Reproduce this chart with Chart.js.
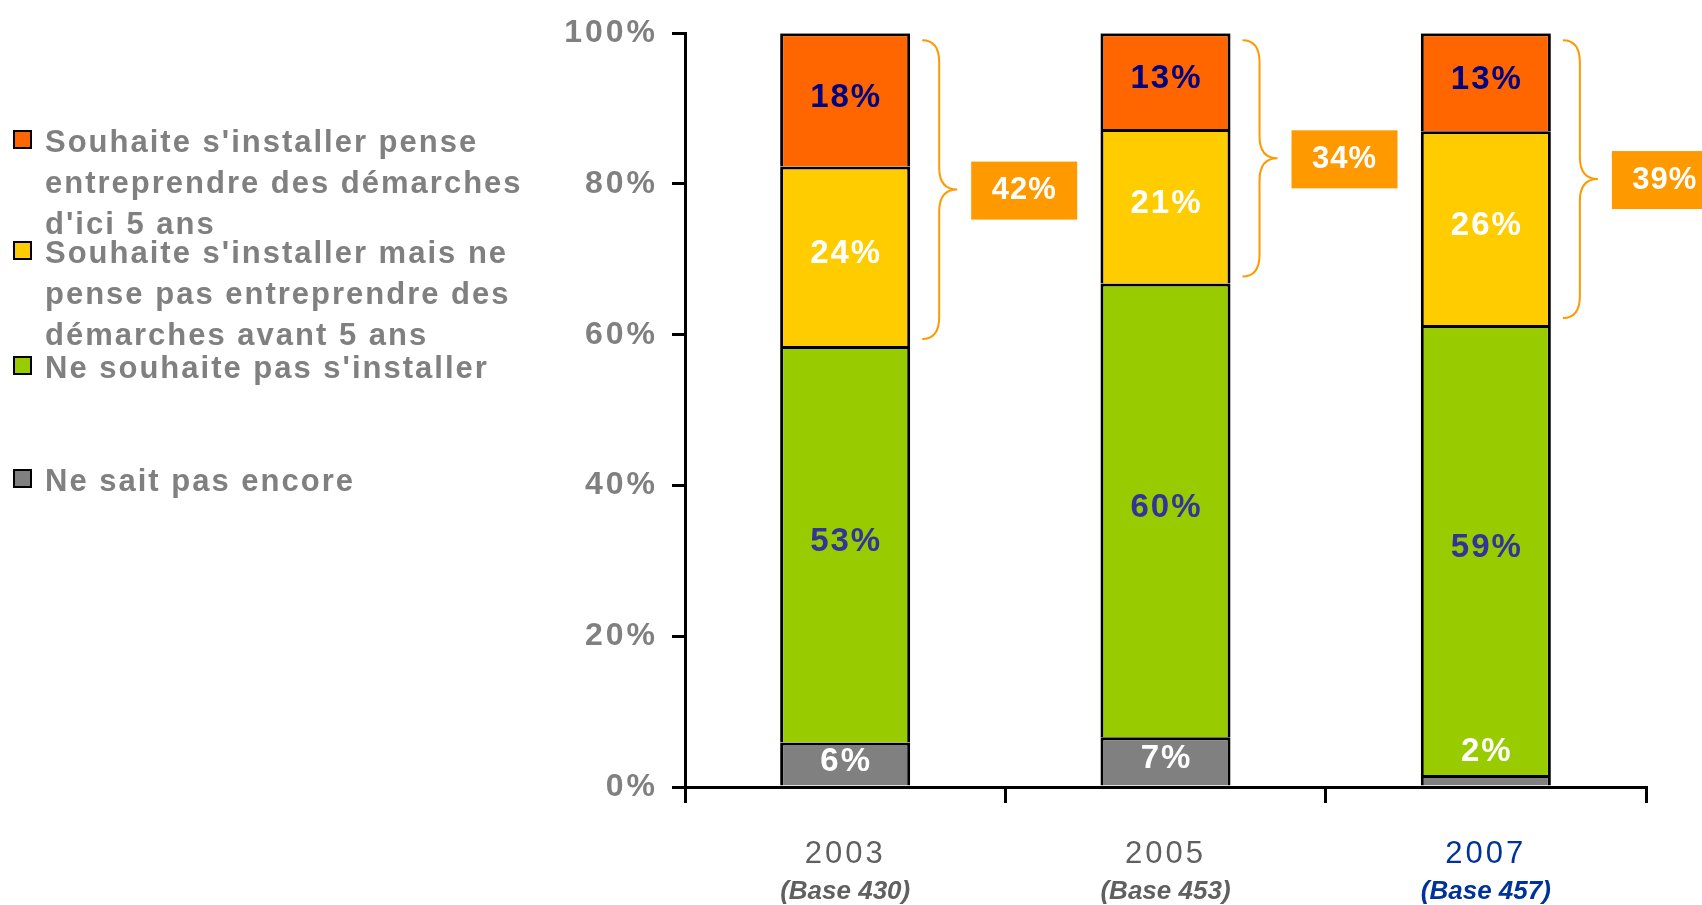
<!DOCTYPE html>
<html>
<head>
<meta charset="utf-8">
<script src="https://cdn.jsdelivr.net/npm/chart.js@4/dist/chart.umd.min.js"></script>
<style>
  html, body { margin: 0; padding: 0; background: #fff; width: 1702px; height: 905px; overflow: hidden; }
  #wrap { position: relative; width: 1702px; height: 905px; }
  canvas { position: absolute; left: 0; top: 0; }
  .leg { position: absolute; left: 0; font-family: 'Liberation Sans', Arial, sans-serif; font-weight: bold;
         font-size: 31px; line-height: 41px; color: #808080; letter-spacing: 2px; white-space: nowrap; }
  .leg .sw { position: absolute; left: 13px; width: 15px; height: 15px; border: 2.5px solid #000; }
  .leg .tx { position: absolute; left: 45px; top: 0; }
</style>
</head>
<body>
<div id="wrap">
  <canvas id="c" width="1702" height="905"></canvas>
  <div id="legend"></div>
</div>
<script>
// ---- data ----
const categories = ['2003', '2005', '2007'];
const baseLabels = ['(Base 430)', '(Base 453)', '(Base 457)'];

const seriesNames = [
  'Ne sait pas encore',
  "Ne souhaite pas s'installer",
  "Souhaite s'installer mais ne pense pas entreprendre des démarches avant 5 ans",
  "Souhaite s'installer pense entreprendre des démarches d'ici 5 ans"
];
const legendLines = [
  ['Ne sait pas encore'],
  ["Ne souhaite pas s'installer"],
  ["Souhaite s'installer mais ne", 'pense pas entreprendre des', 'démarches avant 5 ans'],
  ["Souhaite s'installer pense", 'entreprendre des démarches', "d'ici 5 ans"]
];

const neSaitPas     = [5.9, 6.6, 1.6];
const neSouhaitePas = [52.6, 60.2, 59.7];
const souhaiteApres = [23.8, 20.5, 25.7];
const souhaite5ans  = [17.7, 12.7, 13.0];

const neSaitPasLabels     = ['6%', '7%', '2%'];
const neSouhaitePasLabels = ['53%', '60%', '59%'];
const souhaiteApresLabels = ['24%', '21%', '26%'];
const souhaite5ansLabels  = ['18%', '13%', '13%'];
const totalSouhaiteLabels = ['42%', '34%', '39%'];

const yTickValues = [0, 20, 40, 60, 80, 100];

// ---- styles ----
const FONT = "'Liberation Sans', Arial, sans-serif";
const colors = ['#808080', '#99CC00', '#FFCC00', '#FF6600'];
const labelColors = ['#FFFFFF', '#333399', '#FFFFFF', '#000080'];
const segLabels = [neSaitPasLabels, neSouhaitePasLabels, souhaiteApresLabels, souhaite5ansLabels];
const BRACE = '#FF9900';

// ---- legend (HTML) ----
const legendTops = [459.5, 346.5, 231.5, 120.5]; // by dataset index
const legendEl = document.getElementById('legend');
[3, 2, 1, 0].forEach(i => {
  const d = document.createElement('div');
  d.className = 'leg';
  d.style.top = legendTops[i] + 'px';
  const sw = document.createElement('div');
  sw.className = 'sw';
  sw.style.background = colors[i];
  sw.style.top = '9px';
  const tx = document.createElement('div');
  tx.className = 'tx';
  tx.innerHTML = legendLines[i].map(s => s.replace(/&/g, '&amp;')).join('<br>');
  d.appendChild(sw);
  d.appendChild(tx);
  legendEl.appendChild(d);
});

// ---- plugins ----
const spacingPlugin = {
  id: 'spacing',
  beforeDraw(chart) { chart.ctx.letterSpacing = '3px'; },
  afterDraw(chart) { chart.ctx.letterSpacing = '0px'; }
};

const labelsPlugin = {
  id: 'segLabels',
  afterDatasetsDraw(chart) {
    const ctx = chart.ctx;
    ctx.save();
    ctx.letterSpacing = '2px';
    ctx.font = 'bold 33px ' + FONT;
    ctx.textAlign = 'center';
    ctx.textBaseline = 'middle';
    chart.data.datasets.forEach((ds, di) => {
      const meta = chart.getDatasetMeta(di);
      meta.data.forEach((el, i) => {
        const h = el.base - el.y;
        let cy, col = labelColors[di];
        if (h > 35) {
          cy = (el.y + el.base) / 2;
        } else {
          cy = el.y - 21;
          col = '#FFFFFF';
        }
        ctx.fillStyle = col;
        ctx.fillText(segLabels[di][i], el.x + 1, cy - 2);
      });
    });
    ctx.restore();
  },
  afterDraw(chart) {
    const ctx = chart.ctx;
    const xs = chart.scales.x;
    ctx.save();
    ctx.letterSpacing = '0px';
    // base labels under years
    ctx.font = 'italic bold 26px ' + FONT;
    ctx.textAlign = 'center';
    ctx.textBaseline = 'middle';
    baseLabels.forEach((t, i) => {
      ctx.fillStyle = i === 2 ? '#003399' : '#606060';
      ctx.fillText(t, xs.getPixelForValue(i), 892);
    });
    // braces and total boxes
    const metaTop = chart.getDatasetMeta(3);
    const metaMid = chart.getDatasetMeta(2);
    metaTop.data.forEach((el, i) => {
      const right = el.x + el.width / 2;
      const top = el.y + 7;
      const bottom = metaMid.data[i].base - 7;
      const mid = (top + bottom) / 2;
      const x0 = right + 12;
      const xs2 = x0 + 17;
      const xp = x0 + 35;
      const r = 22;
      ctx.strokeStyle = BRACE;
      ctx.lineWidth = 2;
      ctx.beginPath();
      ctx.moveTo(x0, top);
      ctx.quadraticCurveTo(xs2, top, xs2, top + r);
      ctx.lineTo(xs2, mid - r);
      ctx.quadraticCurveTo(xs2, mid, xp, mid);
      ctx.quadraticCurveTo(xs2, mid, xs2, mid + r);
      ctx.lineTo(xs2, bottom - r);
      ctx.quadraticCurveTo(xs2, bottom, x0, bottom);
      ctx.stroke();
      // box
      const bx = right + 61, bw = 106, bh = 58;
      ctx.fillStyle = BRACE;
      ctx.fillRect(bx, mid - bh / 2 + 1, bw, bh);
      ctx.fillStyle = '#FFFFFF';
      ctx.font = 'bold 31px ' + FONT;
      ctx.letterSpacing = '1px';
      ctx.fillText(totalSouhaiteLabels[i], bx + bw / 2, mid + 1);
      ctx.letterSpacing = '0px';
    });
    ctx.restore();
  }
};

// ---- chart ----
const datasetsData = [neSaitPas, neSouhaitePas, souhaiteApres, souhaite5ans];
new Chart(document.getElementById('c'), {
  type: 'bar',
  data: {
    labels: categories,
    datasets: datasetsData.map((d, i) => ({
      label: seriesNames[i],
      data: d,
      backgroundColor: colors[i],
      borderColor: '#000000',
      borderWidth: 3,
      categoryPercentage: 1,
      barPercentage: 0.406
    }))
  },
  options: {
    responsive: false,
    devicePixelRatio: 1,
    animation: false,
    layout: { padding: { left: 0, top: 31, right: 56, bottom: 0 } },
    plugins: { legend: { display: false }, tooltip: { enabled: false } },
    scales: {
      x: {
        stacked: true,
        offset: true,
        afterFit(s) { s.height = 118; },
        grid: { display: true, drawOnChartArea: false, offset: true, tickLength: 16, color: '#000', lineWidth: 3 },
        border: { display: true, color: '#000', width: 3 },
        ticks: {
          padding: 33,
          font: { family: FONT, size: 31, weight: 'normal' },
          color: (c) => c.index === 2 ? '#003399' : '#606060'
        }
      },
      y: {
        stacked: true,
        min: 0,
        max: 100,
        afterFit(s) { s.width = 685; },
        afterBuildTicks(s) { s.ticks = yTickValues.map(v => ({ value: v })); },
        grid: { display: true, drawOnChartArea: false, tickLength: 13, color: '#000', lineWidth: 3 },
        border: { display: true, color: '#000', width: 3 },
        ticks: {
          padding: 14,
          font: { family: FONT, size: 32, weight: 'bold' },
          color: '#808080',
          callback: (v) => v + '%'
        }
      }
    }
  },
  plugins: [spacingPlugin, labelsPlugin]
});
</script>
</body>
</html>
